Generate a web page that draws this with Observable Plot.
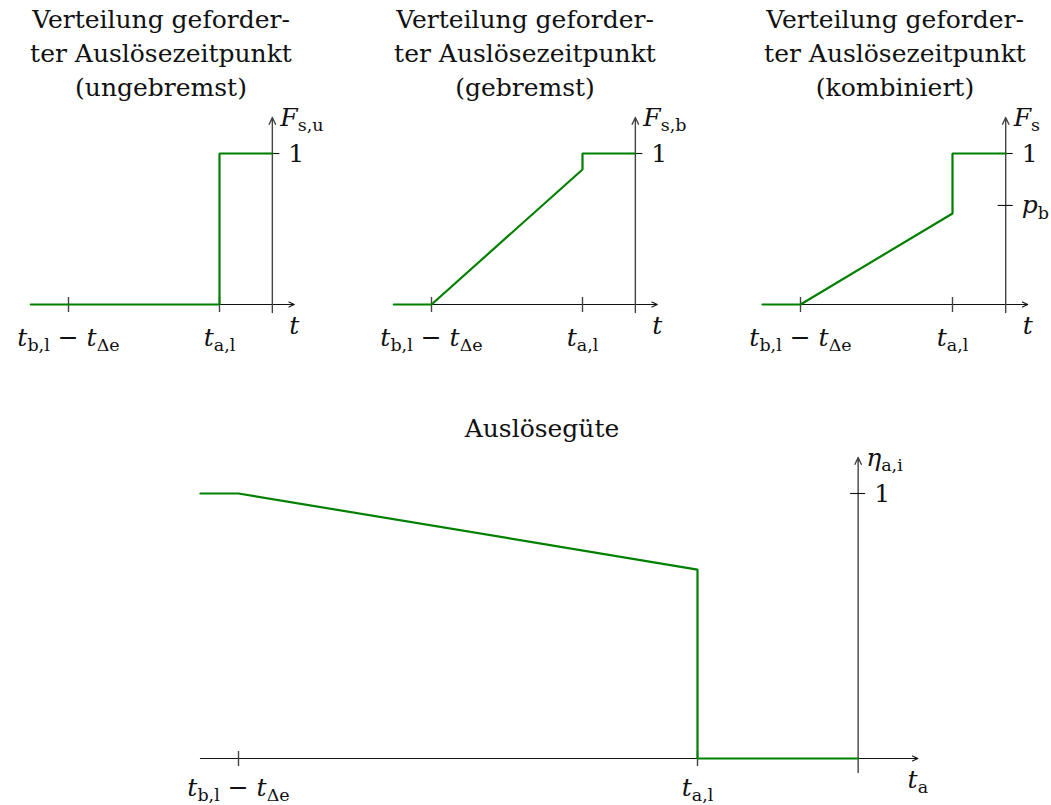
<!DOCTYPE html>
<html>
<head>
<meta charset="utf-8">
<script src="https://cdn.jsdelivr.net/npm/d3@7"></script>
<script src="https://cdn.jsdelivr.net/npm/@observablehq/plot@0.6"></script>
<style>
  html, body { margin: 0; padding: 0; background: #fff; }
  #fig { position: relative; width: 1051px; height: 805px; font-family: "DejaVu Serif", serif; color: #111; }
  .title { position: absolute; font-size: 25px; line-height: 34px; text-align: center; white-space: nowrap; transform: translateX(-50%); }
  .panel { position: absolute; }
</style>
</head>
<body>
<div id="fig"></div>
<script>
// Time-axis ticks: t_b,l − t_Δe and t_a,l
const tickT = [0, 1];
const tickLabels = ["t_{b,l} − t_{Δe}", "t_{a,l}"];

// Position of the ordinate on the time axis
const tOrdinate = 1.35;

// Required trigger time distribution, unbraked
const tUngebremst = [-0.25, 1, 1, 1.35];
const fUngebremst = [0, 0, 1, 1];

// Required trigger time distribution, braked
const tGebremst = [-0.25, 0, 1, 1, 1.35];
const fGebremst = [0, 0, 0.894, 1, 1];

// Required trigger time distribution, combined
const tKombiniert = [-0.25, 0, 1, 1, 1.35];
const fKombiniert = [0, 0, 0.603, 1, 1];
const pB = 0.656;

// Trigger quality over trigger time
const tGuete = [-0.083, 0, 1, 1, 1.35];
const etaGuete = [1, 1, 0.713, 0, 0];

const panelTitles = [
  ["Verteilung geforder-", "ter Auslösezeitpunkt", "(ungebremst)"],
  ["Verteilung geforder-", "ter Auslösezeitpunkt", "(gebremst)"],
  ["Verteilung geforder-", "ter Auslösezeitpunkt", "(kombiniert)"]
];
const bottomTitle = "Auslösegüte";

const green = "#008000";
const ink = "#111";
const gray = "#444";

// Turn "t_{a,l}" style strings into italic symbols with upright subscripts
function typeset(svg) {
  d3.select(svg).selectAll("text").each(function () {
    const src = this.textContent;
    const sel = d3.select(this);
    sel.text("");
    const re = /_\{([^}]*)\}|([A-Za-zα-ωΑ-Ω]+)|([^_A-Za-zα-ωΑ-Ω]+)/g;
    let m, shift = 0;
    const sub = 5.5;
    while ((m = re.exec(src))) {
      const ts = sel.append("tspan");
      if (m[1] !== undefined) {
        ts.text(m[1]).style("font-size", "0.7em").style("font-style", "normal");
        if (shift !== sub) { ts.attr("dy", sub - shift); shift = sub; }
      } else {
        ts.text(m[2] ?? m[3]);
        if (m[2] !== undefined) ts.style("font-style", "italic");
        if (shift !== 0) { ts.attr("dy", -shift); shift = 0; }
      }
    }
  });
}

function panel(o) {
  const rows = o.t.map((t, i) => ({t, v: o.v[i]}));
  const plot = Plot.plot({
    width: o.width,
    height: o.height,
    margin: 0,
    style: {background: "transparent", overflow: "visible", fontFamily: "DejaVu Serif", fontSize: "25px", color: ink},
    x: {domain: [0, 1], range: o.xRange, axis: null},
    y: {domain: [0, 1], range: o.yRange, axis: null},
    marks: [
      // abscissa with arrow head
      Plot.arrow([0], {x1: o.xStart, x2: o.xEnd, y1: 0, y2: 0, stroke: ink, strokeWidth: 1.1, headLength: 8, headAngle: 50}),
      // ordinate with arrow head
      Plot.arrow([0], {x1: tOrdinate, x2: tOrdinate, y1: 0, y2: 1, insetStart: -o.below, insetEnd: -36, stroke: gray, strokeWidth: 1.4, headLength: 8, headAngle: 50}),
      // ticks on the time axis
      Plot.ruleX(tickT, {x: (d) => d, y1: 0, y2: 0, insetTop: -7, insetBottom: -o.tickBelow, stroke: gray, strokeWidth: 1.4}),
      // ticks on the ordinate
      Plot.ruleY(o.yTicks, {y: (d) => d, x1: tOrdinate, x2: tOrdinate, insetLeft: -7.5, insetRight: -7.5, stroke: ink, strokeWidth: 1.1}),
      // curve
      Plot.line(rows, {x: "t", y: "v", stroke: green, strokeWidth: 2.2, strokeLinejoin: "miter"}),
      // labels
      Plot.text(tickT, {x: (d) => d, y: 0, text: (d, i) => tickLabels[i], dy: o.tickDy, lineAnchor: "bottom", fill: ink}),
      Plot.text(o.yTicks, {x: tOrdinate, y: (d) => d, text: (d, i) => o.yTickLabels[i], dx: 16, textAnchor: "start", lineAnchor: "middle", fill: ink}),
      Plot.text([o.xLabel], {x: o.xEnd, y: 0, text: (d) => d, dy: 29, lineAnchor: "bottom", fill: ink}),
      Plot.text([o.yLabel], {x: tOrdinate, y: 1, text: (d) => d, dx: 8, dy: -36, textAnchor: "start", lineAnchor: "middle", fill: ink})
    ]
  });
  typeset(plot);
  plot.classList.add("panel");
  plot.style.left = o.left + "px";
  plot.style.top = o.top + "px";
  return plot;
}

const fig = document.getElementById("fig");

const tops = [
  {left: 0, width: 350, xRange: [68, 219], t: tUngebremst, v: fUngebremst, yTicks: [1], yTickLabels: ["1"], yLabel: "F_{s,u}", center: 161},
  {left: 350, width: 350, xRange: [81, 232], t: tGebremst, v: fGebremst, yTicks: [1], yTickLabels: ["1"], yLabel: "F_{s,b}", center: 525},
  {left: 700, width: 351, xRange: [100, 252], t: tKombiniert, v: fKombiniert, yTicks: [1, pB], yTickLabels: ["1", "p_{b}"], yLabel: "F_{s}", center: 895}
];

tops.forEach((p, k) => {
  fig.appendChild(panel({
    ...p, top: 100, height: 260, yRange: [204, 53],
    xStart: -0.25, xEnd: 1.495, below: 8, tickBelow: 8, tickDy: 41, xLabel: "t"
  }));
  const d = document.createElement("div");
  d.className = "title";
  d.style.left = p.center + "px";
  d.style.top = "3px";
  d.innerHTML = panelTitles[k].join("<br>");
  fig.appendChild(d);
});

fig.appendChild(panel({
  left: 0, top: 400, width: 1051, height: 405,
  xRange: [238, 697], yRange: [358, 93],
  t: tGuete, v: etaGuete, yTicks: [1], yTickLabels: ["1"], yLabel: "η_{a,i}",
  xStart: -0.083, xEnd: 1.48, below: 14, tickBelow: 8, tickDy: 37, xLabel: "t_{a}"
}));
const bt = document.createElement("div");
bt.className = "title";
bt.style.left = "542px";
bt.style.top = "412px";
bt.textContent = bottomTitle;
fig.appendChild(bt);
</script>
</body>
</html>
